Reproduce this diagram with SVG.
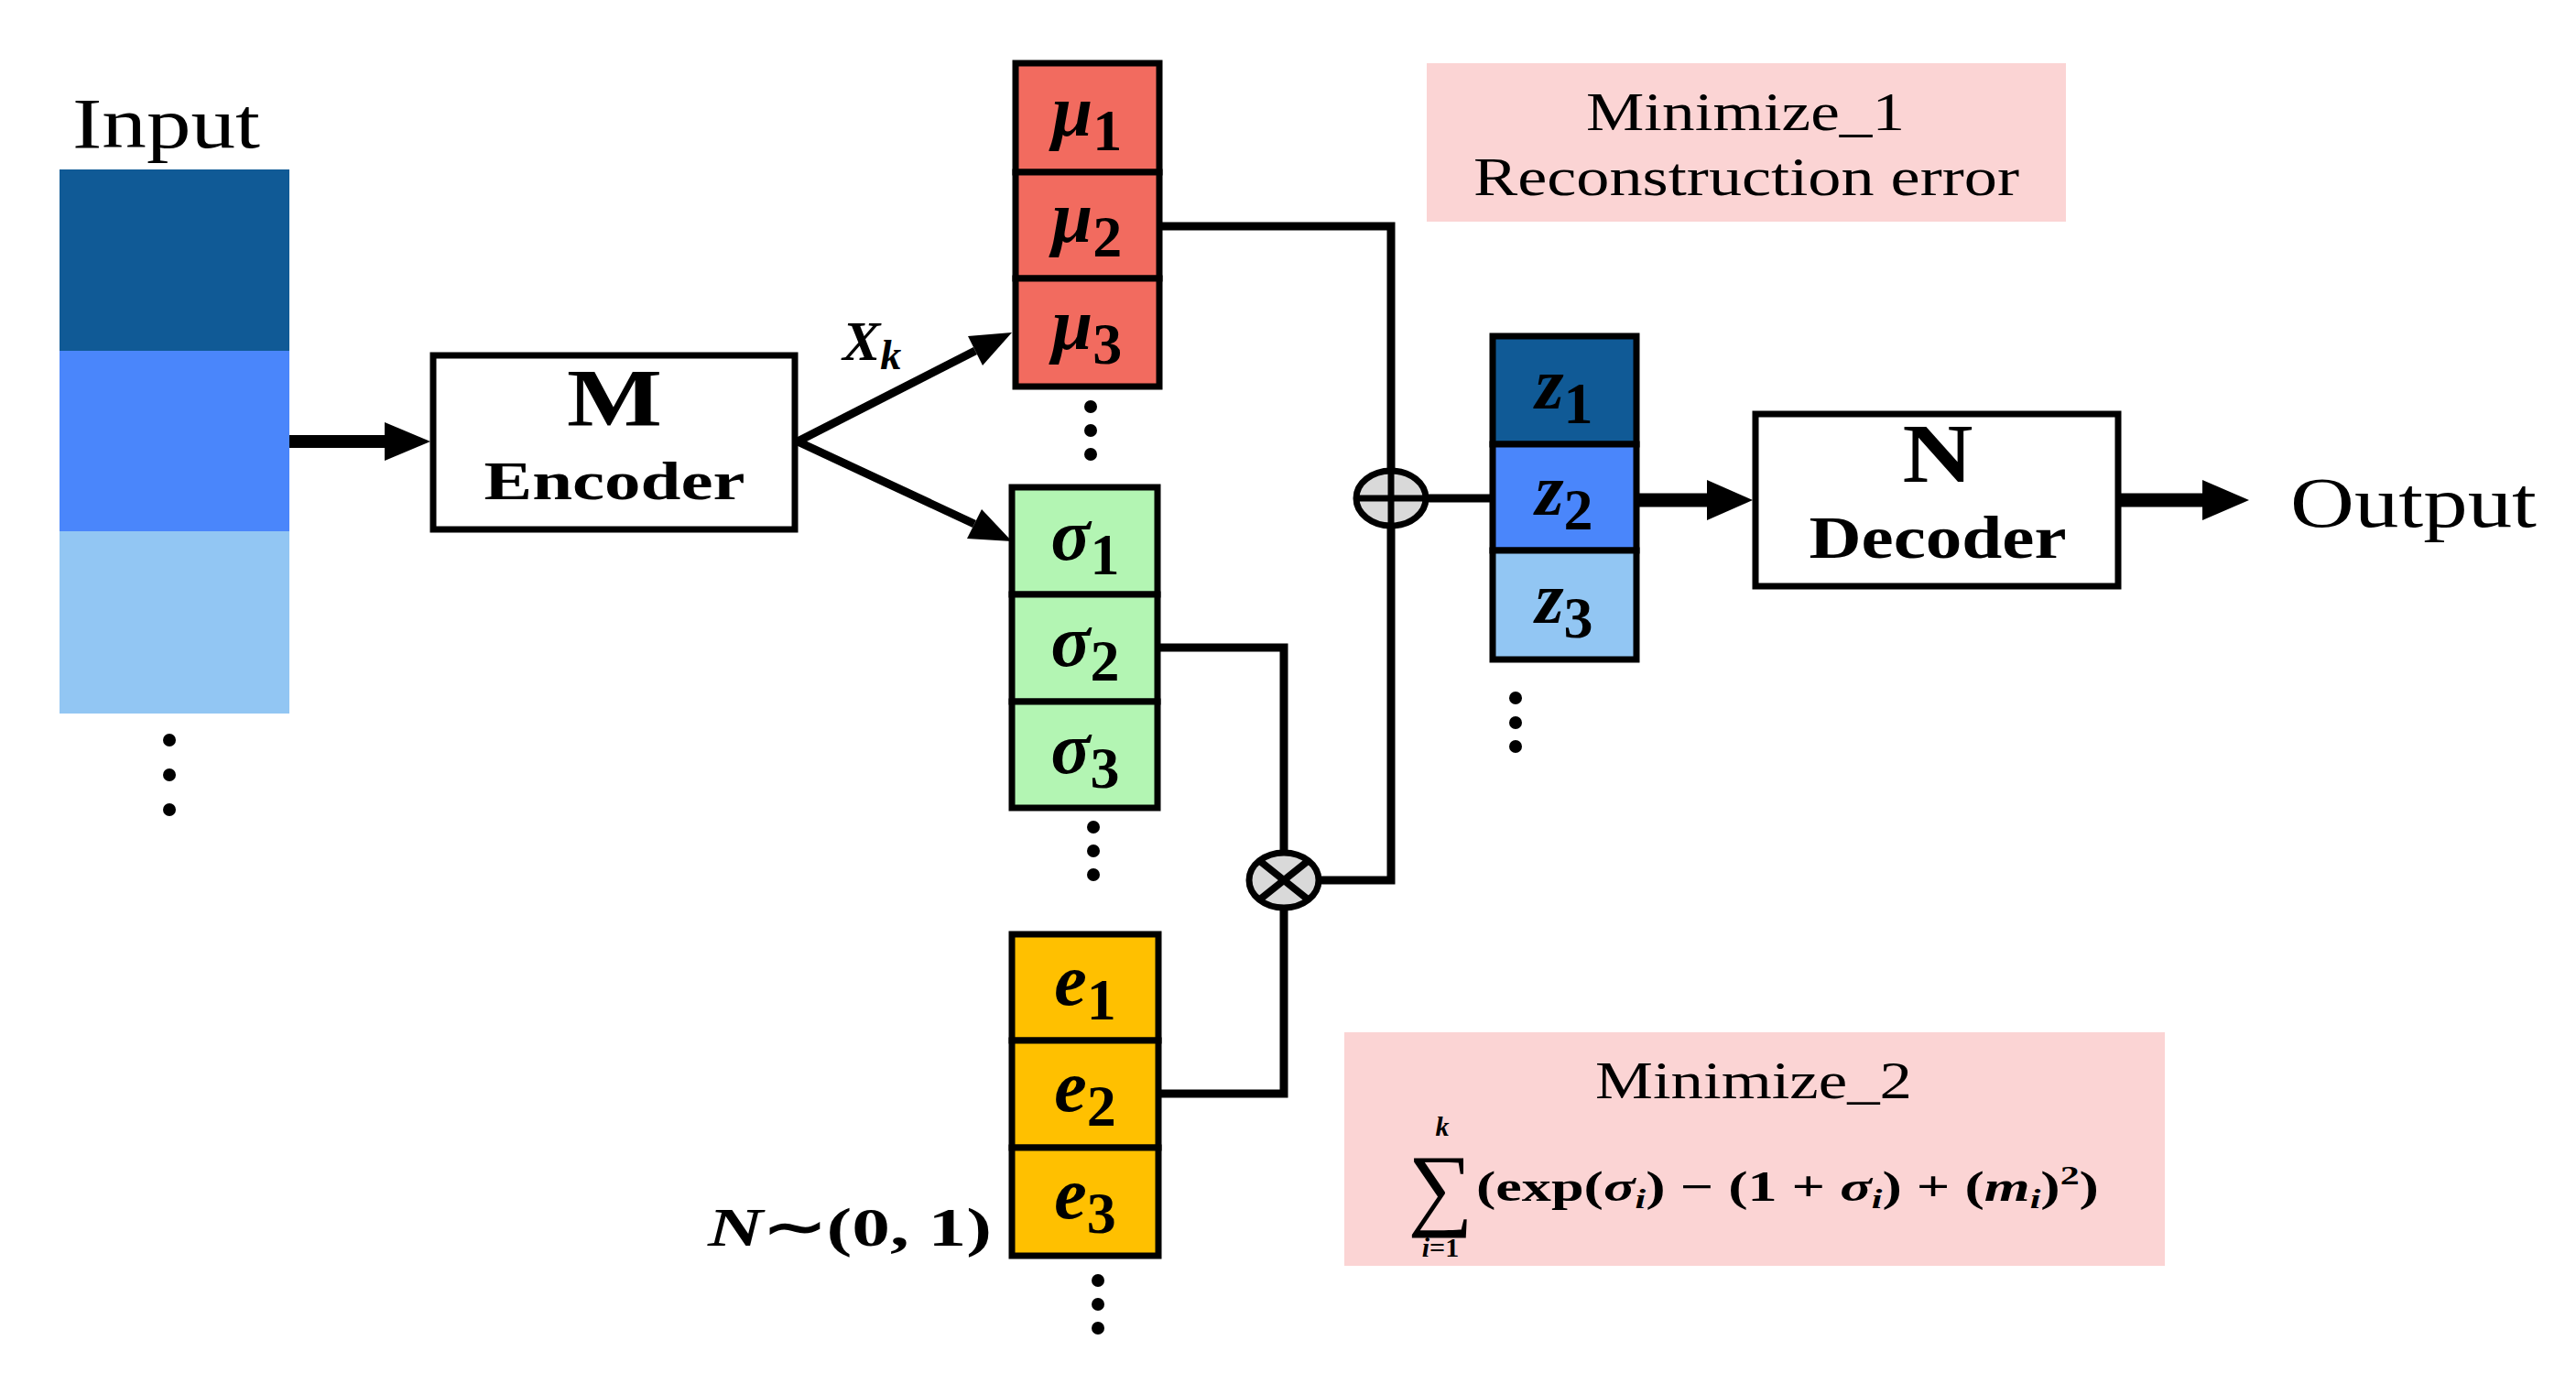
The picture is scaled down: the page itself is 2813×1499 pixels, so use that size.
<svg xmlns="http://www.w3.org/2000/svg" width="2813" height="1499" viewBox="0 0 2813 1499">
<style>
.t{font-family:"Liberation Serif","Times New Roman",serif;fill:#000}
.b{font-weight:bold}
.cell{stroke:#000;stroke-width:7}
.box{fill:#fff;stroke:#000;stroke-width:7}
.ln{fill:none;stroke:#000;stroke-width:9}
.v{font-family:"Liberation Serif",serif;font-weight:bold;font-style:italic;font-size:80px}
.s{font-family:"Liberation Serif",serif;font-weight:bold;font-size:64px}
.op{fill:#d9d9d9;stroke:#000;stroke-width:7}
</style>
<rect width="2813" height="1499" fill="#fff"/>
<g id="input">
<text class="t" x="79" y="161" font-size="78" textLength="205" lengthAdjust="spacingAndGlyphs">Input</text>
<rect x="65" y="185" width="251" height="198" fill="#105a96"/>
<rect x="65" y="383" width="251" height="197" fill="#4a86fb"/>
<rect x="65" y="580" width="251" height="199" fill="#92c6f3"/>
<circle cx="185" cy="808" r="7"/><circle cx="185" cy="846" r="7"/><circle cx="185" cy="884" r="7"/>
</g>
<g id="encoder">
<rect class="box" x="473" y="388" width="395" height="190"/>
<text class="t b" x="671" y="464" font-size="88" text-anchor="middle" textLength="104" lengthAdjust="spacingAndGlyphs">M</text>
<text class="t b" x="671" y="545" font-size="60" text-anchor="middle" textLength="285" lengthAdjust="spacingAndGlyphs">Encoder</text>
</g>
<g id="mu">
<rect class="cell" x="1109" y="69" width="157" height="119" fill="#f26b5f"/>
<rect class="cell" x="1109" y="188" width="157" height="116" fill="#f26b5f"/>
<rect class="cell" x="1109" y="304" width="157" height="118" fill="#f26b5f"/>
<text x="1187" y="148" text-anchor="middle"><tspan class="v">μ</tspan><tspan class="s" dy="16">1</tspan></text>
<text x="1187" y="264" text-anchor="middle"><tspan class="v">μ</tspan><tspan class="s" dy="16">2</tspan></text>
<text x="1187" y="381" text-anchor="middle"><tspan class="v">μ</tspan><tspan class="s" dy="16">3</tspan></text>
<circle cx="1191" cy="444" r="7"/><circle cx="1191" cy="470" r="7"/><circle cx="1191" cy="496" r="7"/>
</g>
<g id="sigma">
<rect class="cell" x="1105" y="532" width="159" height="117" fill="#b3f5b3"/>
<rect class="cell" x="1105" y="649" width="159" height="117" fill="#b3f5b3"/>
<rect class="cell" x="1105" y="766" width="159" height="116" fill="#b3f5b3"/>
<text x="1185" y="611" text-anchor="middle"><tspan class="v">σ</tspan><tspan class="s" dy="16">1</tspan></text>
<text x="1185" y="727" text-anchor="middle"><tspan class="v">σ</tspan><tspan class="s" dy="16">2</tspan></text>
<text x="1185" y="844" text-anchor="middle"><tspan class="v">σ</tspan><tspan class="s" dy="16">3</tspan></text>
<circle cx="1194" cy="903" r="7"/><circle cx="1194" cy="929" r="7"/><circle cx="1194" cy="955" r="7"/>
</g>
<g id="e">
<rect class="cell" x="1105" y="1020" width="160" height="116" fill="#ffc000"/>
<rect class="cell" x="1105" y="1136" width="160" height="117" fill="#ffc000"/>
<rect class="cell" x="1105" y="1253" width="160" height="118" fill="#ffc000"/>
<text x="1185" y="1097" text-anchor="middle"><tspan class="v">e</tspan><tspan class="s" dy="16">1</tspan></text>
<text x="1185" y="1213" text-anchor="middle"><tspan class="v">e</tspan><tspan class="s" dy="16">2</tspan></text>
<text x="1185" y="1330" text-anchor="middle"><tspan class="v">e</tspan><tspan class="s" dy="16">3</tspan></text>
<circle cx="1199" cy="1398" r="7"/><circle cx="1199" cy="1424" r="7"/><circle cx="1199" cy="1450" r="7"/>
<text class="t b" x="773" y="1360" font-size="60" textLength="310" lengthAdjust="spacingAndGlyphs"><tspan font-style="italic">N</tspan>∼(0, 1)</text>
</g>
<g id="z">
<rect class="cell" x="1630" y="367" width="157" height="118" fill="#105a96"/>
<rect class="cell" x="1630" y="485" width="157" height="116" fill="#4a86fb"/>
<rect class="cell" x="1630" y="601" width="157" height="119" fill="#92c6f3"/>
<text x="1708" y="446" text-anchor="middle"><tspan class="v">z</tspan><tspan class="s" dy="16">1</tspan></text>
<text x="1708" y="562" text-anchor="middle"><tspan class="v">z</tspan><tspan class="s" dy="16">2</tspan></text>
<text x="1708" y="680" text-anchor="middle"><tspan class="v">z</tspan><tspan class="s" dy="16">3</tspan></text>
<circle cx="1655" cy="762" r="7"/><circle cx="1655" cy="789" r="7"/><circle cx="1655" cy="815" r="7"/>
</g>
<g id="decoder">
<rect class="box" x="1917" y="452" width="396" height="188"/>
<text class="t b" x="2116" y="526" font-size="92" text-anchor="middle" textLength="77" lengthAdjust="spacingAndGlyphs">N</text>
<text class="t b" x="2116" y="609" font-size="66" text-anchor="middle" textLength="281" lengthAdjust="spacingAndGlyphs">Decoder</text>
</g>
<g id="output">
<text class="t" x="2501" y="575" font-size="78" textLength="269" lengthAdjust="spacingAndGlyphs">Output</text>
</g>
<g id="min1">
<rect x="1558" y="69" width="698" height="173" fill="#fbd4d4"/>
<text class="t" x="1906" y="142" font-size="60" text-anchor="middle" textLength="348" lengthAdjust="spacingAndGlyphs">Minimize_1</text>
<text class="t" x="1907" y="213" font-size="60" text-anchor="middle" textLength="596" lengthAdjust="spacingAndGlyphs">Reconstruction error</text>
</g>
<g id="min2">
<rect x="1468" y="1127" width="896" height="255" fill="#fbd4d4"/>
<text class="t" x="1915" y="1199" font-size="56" text-anchor="middle" textLength="346" lengthAdjust="spacingAndGlyphs">Minimize_2</text>
<text class="t" x="1573" y="1330" font-size="100" text-anchor="middle">∑</text>
<text class="t b" x="1575" y="1240" font-size="30" font-style="italic" text-anchor="middle">k</text>
<text class="t b" x="1573" y="1372" font-size="30" text-anchor="middle"><tspan font-style="italic">i</tspan>=1</text>
<text class="t b" x="1612" y="1311" font-size="46" textLength="680" lengthAdjust="spacingAndGlyphs">(exp(<tspan font-style="italic">σ</tspan><tspan font-size="30" dy="8" font-style="italic">i</tspan><tspan dy="-8">) − (1 + </tspan><tspan font-style="italic">σ</tspan><tspan font-size="30" dy="8" font-style="italic">i</tspan><tspan dy="-8">) + (</tspan><tspan font-style="italic">m</tspan><tspan font-size="30" dy="8" font-style="italic">i</tspan><tspan dy="-8">)</tspan><tspan font-size="30" dy="-18">2</tspan><tspan dy="18">)</tspan></text>
</g>
<g id="xk">
<text x="920" y="393"><tspan class="t b" font-style="italic" font-size="62">X</tspan><tspan class="t b" font-style="italic" font-size="46" dy="10">k</tspan></text>
</g>
<g id="connectors">
<line x1="316" y1="482" x2="422" y2="482" stroke="#000" stroke-width="14"/>
<polygon points="470,482 420,461 420,503"/>
<line x1="871" y1="482" x2="1065" y2="383" stroke="#000" stroke-width="9"/>
<polygon points="1105,363 1073,399 1057,367"/>
<line x1="871" y1="482" x2="1064" y2="572" stroke="#000" stroke-width="9"/>
<polygon points="1105,591 1056,588 1072,556"/>
<polyline class="ln" points="1266,247 1519,247 1519,961 1440,961"/>
<polyline class="ln" points="1264,707 1402,707 1402,930"/>
<polyline class="ln" points="1265,1194 1402,1194 1402,992"/>
<line x1="1559" y1="544" x2="1630" y2="544" stroke="#000" stroke-width="9"/>
<line x1="1787" y1="546" x2="1866" y2="546" stroke="#000" stroke-width="15"/>
<polygon points="1914,546 1864,524 1864,568"/>
<line x1="2316" y1="546" x2="2407" y2="546" stroke="#000" stroke-width="15"/>
<polygon points="2456,546 2405,524 2405,568"/>
</g>
<g id="oplus">
<ellipse class="op" cx="1519" cy="544" rx="38" ry="30"/>
<line x1="1481" y1="544" x2="1557" y2="544" stroke="#000" stroke-width="7"/>
<line x1="1519" y1="514" x2="1519" y2="574" stroke="#000" stroke-width="7"/>
</g>
<g id="otimes">
<ellipse class="op" cx="1402" cy="961" rx="38" ry="30"/>
<line x1="1377" y1="941" x2="1427" y2="981" stroke="#000" stroke-width="8"/>
<line x1="1427" y1="941" x2="1377" y2="981" stroke="#000" stroke-width="8"/>
</g>
</svg>
